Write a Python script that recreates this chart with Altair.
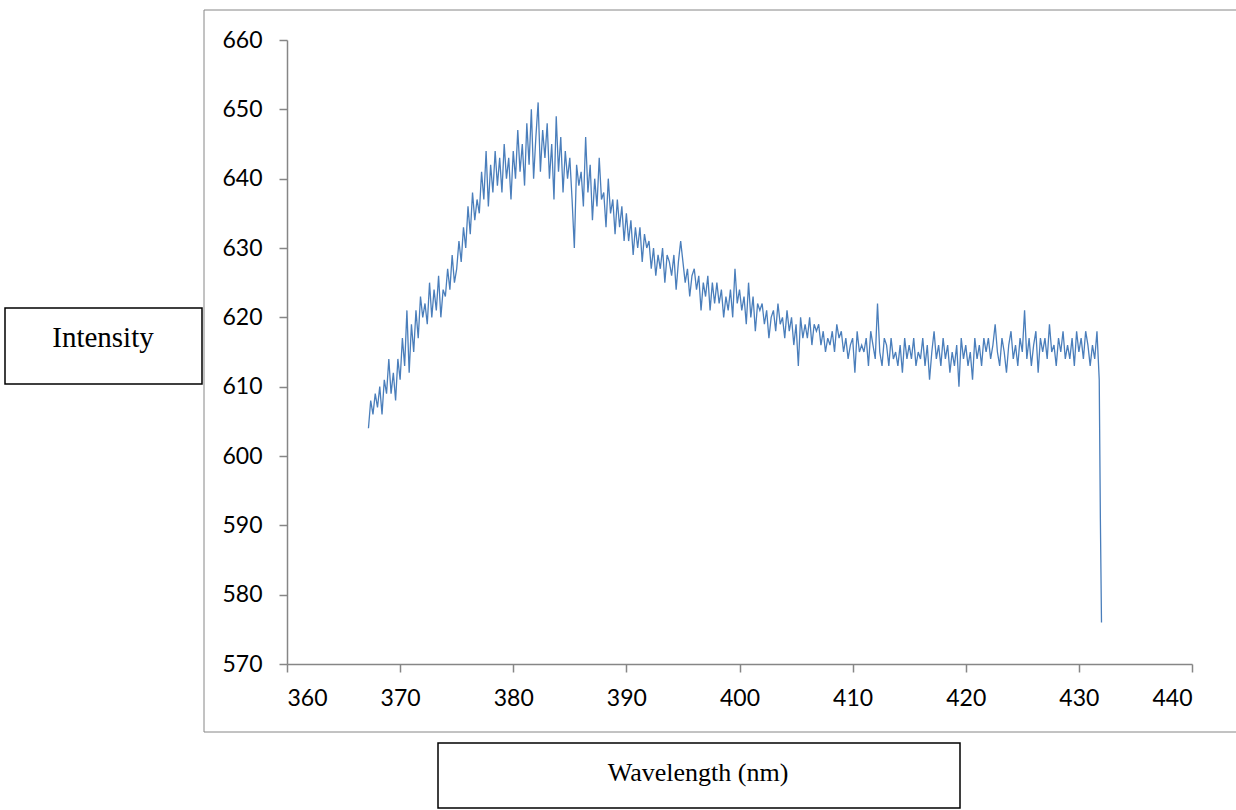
import altair as alt
import pandas as pd

# Spectrum: wavelength grid start/step (nm) and intensities
WL_START = 367.2
WL_STEP = 0.2
INTENSITY = [
    604, 608, 606, 609,                # 367.2 - 367.8
    607, 610, 606, 611, 609,           # 368
    614, 609, 612, 608, 614,           # 369
    611, 617, 613, 621, 612,           # 370
    619, 615, 621, 617, 623,           # 371
    620, 622, 619, 625, 620,           # 372
    624, 621, 626, 620, 624,           # 373
    623, 627, 624, 629, 625,           # 374
    627, 631, 628, 633, 630,           # 375
    636, 632, 638, 634, 637,           # 376
    635, 641, 637, 644, 636,           # 377
    642, 638, 644, 639, 643,           # 378
    638, 645, 640, 643, 637,           # 379
    644, 640, 647, 641, 645,           # 380
    639, 648, 642, 650, 640,           # 381
    646, 651, 641, 647, 643,           # 382
    648, 640, 645, 637, 649,           # 383
    641, 646, 638, 644, 640,           # 384
    643, 637, 630, 642, 639,           # 385
    641, 636, 646, 638, 642,           # 386
    634, 640, 636, 643, 637,           # 387
    638, 633, 640, 635, 637,           # 388
    632, 637, 633, 636, 631,           # 389
    635, 631, 634, 629, 633,           # 390
    630, 633, 628, 632, 630,           # 391
    631, 627, 630, 626, 629,           # 392
    627, 630, 625, 629, 628,           # 393
    626, 629, 624, 628, 631,           # 394
    628, 625, 627, 623, 626,           # 395
    627, 624, 626, 621, 625,           # 396
    623, 626, 621, 625, 622,           # 397
    625, 622, 624, 620, 623,           # 398
    621, 624, 620, 627, 622,           # 399
    624, 621, 623, 619, 625,           # 400
    620, 623, 618, 622, 621,           # 401
    622, 619, 621, 617, 620,           # 402
    621, 618, 622, 619, 620,           # 403
    617, 621, 618, 620, 616,           # 404
    619, 613, 620, 617, 619,           # 405
    617, 620, 616, 619, 618,           # 406
    619, 616, 618, 615, 617,           # 407
    616, 618, 615, 619, 617,           # 408
    618, 615, 617, 614, 616,           # 409
    617, 612, 618, 615, 616,           # 410
    615, 617, 613, 618, 616,           # 411
    614, 622, 615, 613, 617,           # 412
    616, 613, 617, 614, 615,           # 413
    613, 616, 612, 617, 614,           # 414
    616, 614, 617, 613, 615,           # 415
    614, 617, 613, 616, 611,           # 416
    615, 618, 614, 616, 613,           # 417
    617, 614, 616, 612, 615,           # 418
    613, 616, 610, 617, 614,           # 419
    616, 613, 615, 611, 617,           # 420
    614, 616, 613, 617, 615,           # 421
    617, 614, 616, 619, 615,           # 422
    613, 617, 615, 612, 616,           # 423
    618, 614, 616, 613, 617,           # 424
    615, 621, 614, 617, 613,           # 425
    616, 618, 612, 617, 615,           # 426
    617, 614, 619, 615, 616,           # 427
    613, 617, 615, 618, 614,           # 428
    616, 614, 617, 613, 618,           # 429
    615, 617, 614, 618, 616,           # 430
    613, 616, 614, 618, 611,           # 431
]
TAIL_WAVELENGTH = [431.9, 432.0]
TAIL_INTENSITY = [591, 576]

X_TICKS = [360, 370, 380, 390, 400, 410, 420, 430, 440]
Y_TICKS = [570, 580, 590, 600, 610, 620, 630, 640, 650, 660]
X_TITLE = "Wavelength (nm)"
Y_TITLE = "Intensity"

wavelengths = [round(WL_START + i * WL_STEP, 1) for i in range(len(INTENSITY))] + TAIL_WAVELENGTH
df = pd.DataFrame({"wavelength": wavelengths, "intensity": INTENSITY + TAIL_INTENSITY})

W, H = 905, 624
one = pd.DataFrame({"k": [0]})
AXIS_GRAY = "#868686"

outer_box = alt.Chart(one).mark_rect(fillOpacity=0, stroke=AXIS_GRAY, strokeWidth=1).encode(
    x=alt.value(-83), x2=alt.value(960), y=alt.value(-30), y2=alt.value(692)
)

line = alt.Chart(df).mark_line(color="#4A7EBB", strokeWidth=1.3).encode(
    x=alt.X("wavelength:Q", title="",
            scale=alt.Scale(domain=[360, 440], nice=False, zero=False),
            axis=alt.Axis(values=X_TICKS, tickSize=8, labelPadding=15, grid=False)),
    y=alt.Y("intensity:Q", title="",
            scale=alt.Scale(domain=[570, 660], nice=False, zero=False),
            axis=alt.Axis(values=Y_TICKS, tickSize=8, labelPadding=17, grid=False)),
)

y_box = alt.Chart(one).mark_rect(fillOpacity=0, stroke="black", strokeWidth=1.5).encode(
    x=alt.value(-282), x2=alt.value(-85), y=alt.value(268), y2=alt.value(344)
)
y_text = alt.Chart(one).mark_text(
    text=Y_TITLE, font="Liberation Serif", fontSize=29, color="black", baseline="middle", align="center"
).encode(x=alt.value(-184), y=alt.value(298))

x_box = alt.Chart(one).mark_rect(fillOpacity=0, stroke="black", strokeWidth=1.5).encode(
    x=alt.value(151), x2=alt.value(673), y=alt.value(703), y2=alt.value(768)
)
x_text = alt.Chart(one).mark_text(
    text=X_TITLE, font="Liberation Serif", fontSize=26, color="black", baseline="middle", align="center"
).encode(x=alt.value(411), y=alt.value(733))

chart = alt.layer(outer_box, line, y_box, y_text, x_box, x_text).properties(
    width=W, height=H,
    autosize=alt.AutoSizeParams(type="none"),
    padding={"left": 287, "top": 40, "right": 44, "bottom": 146},
    background="white",
).configure_view(stroke=None).configure_axis(
    domainColor=AXIS_GRAY, tickColor=AXIS_GRAY, labelColor="black",
    labelFont="Lato", labelFontSize=23, domainWidth=1.5, tickWidth=1.5,
)

chart.save("out.html", embed_options={"renderer": "svg", "actions": False})
